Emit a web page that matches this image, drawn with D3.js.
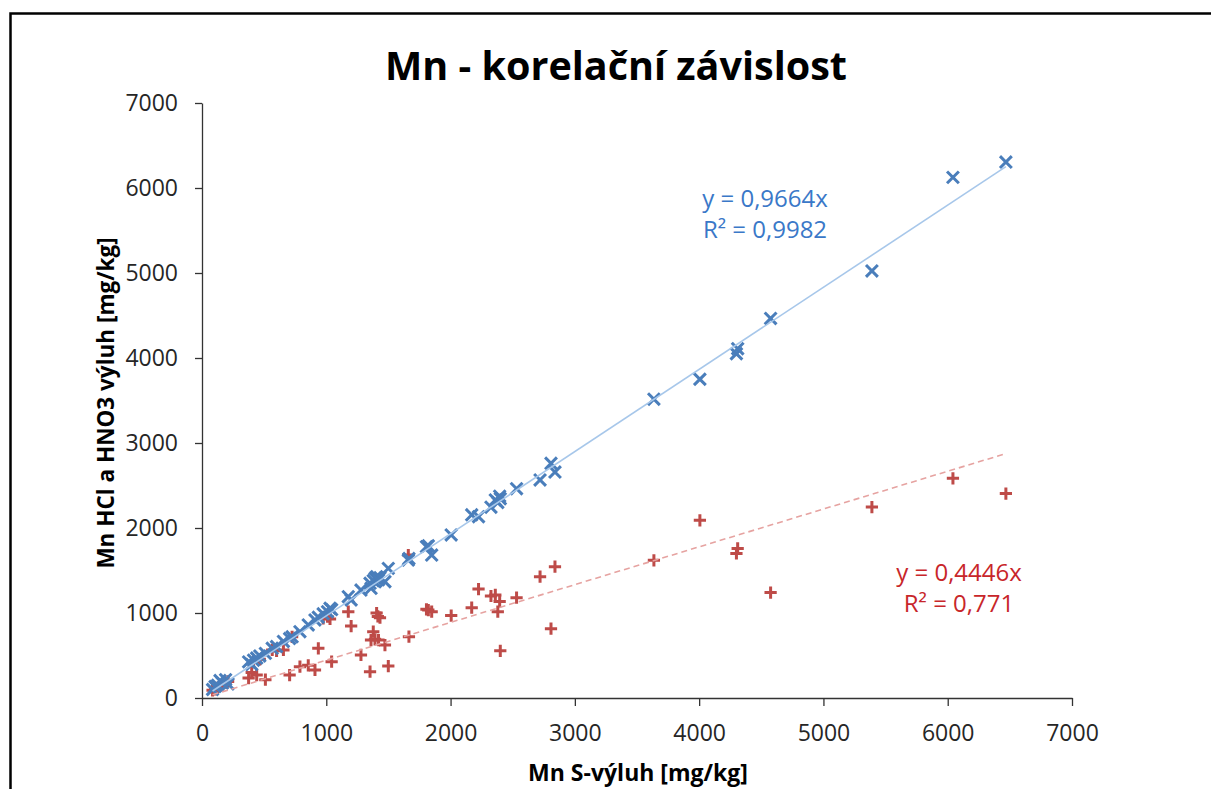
<!DOCTYPE html>
<html>
<head>
<meta charset="utf-8">
<script src="https://cdn.jsdelivr.net/npm/d3@7"></script>
<style>
    body { margin: 0; background: #fff; }
    svg { display: block; font-family: "Open Sans", sans-serif; }
</style>
</head>
<body>
<div id="chart"></div>
<script>
const W = 1211, H = 789;

// Mn S-výluh [mg/kg] (osa x, společná pro obě řady)
const sVyluh = [85, 105, 125, 145, 165, 190, 210, 375, 400, 415, 440, 465, 510, 565, 600, 655,
    705, 725, 788, 855, 909, 936, 975, 1010, 1030, 1043, 1177, 1200, 1279, 1352, 1360, 1378,
    1392, 1405, 1415, 1420, 1432, 1472, 1499, 1660, 1665, 1806, 1821, 1848, 2005, 2170, 2225,
    2325, 2360, 2380, 2395, 2400, 2531, 2720, 2808, 2840, 3636, 4006, 4300, 4310, 4575, 5390,
    6042, 6468];
// modrá řada (x)
const seriesBlue = [100, 135, 150, 205, 175, 215, 165, 425, 395, 445, 470, 495, 525, 585, 605, 665,
    700, 720, 780, 860, 918, 950, 990, 1015, 1055, 1040, 1192, 1153, 1270, 1349, 1290, 1380,
    1408, 1427, 1400, 1390, 1415, 1368, 1525, 1623, 1640, 1780, 1790, 1682, 1918, 2155, 2133,
    2245, 2330, 2300, 2375, 2345, 2462, 2565, 2761, 2658, 3515, 3750, 4050, 4110, 4465, 5024,
    6125, 6305];
// červená řada (+)
const seriesRed = [90, 100, 120, 145, 165, 180, 195, 235, 300, 430, 270, 455, 215, 565, 555, 565,
    270, 720, 368, 385, 330, 584, 938, 956, 930, 427, 1015, 847, 506, 310, 682, 780,
    690, 1000, 960, 682, 945, 623, 376, 1682, 721, 1044, 1035, 1015, 970, 1062, 1282,
    1200, 1212, 1015, 1135, 555, 1180, 1427, 815, 1545, 1620, 2090, 1700, 1760, 1240, 2247,
    2585, 2405];

const xTicks = [0, 1000, 2000, 3000, 4000, 5000, 6000, 7000];
const yTicks = [0, 1000, 2000, 3000, 4000, 5000, 6000, 7000];

// spojnice trendu (procházejí počátkem)
const slopeBlue = 0.9664, slopeRed = 0.4446;
const eqBlue = ["y = 0,9664x", "R² = 0,9982"];
const eqRed = ["y = 0,4446x", "R² = 0,771"];

const BLUE = "#4a7ebb", RED = "#be4b48";
const BLUE_LINE = "#a7c7ea", RED_LINE = "#e6a3a1";

const svg = d3.select("#chart").append("svg")
    .attr("width", W)
    .attr("height", H);

svg.append("rect").attr("width", W).attr("height", H).attr("fill", "#fff");

// rámeček grafu (přesahuje vpravo a dole)
svg.append("rect")
    .attr("x", 10.5).attr("y", 13.5)
    .attr("width", W + 50).attr("height", H + 50)
    .attr("fill", "none")
    .attr("stroke", "#000")
    .attr("stroke-width", 2.5);

const x = d3.scaleLinear().domain([0, 7000]).range([202, 1072]);
const y = d3.scaleLinear().domain([0, 7000]).range([698, 103]);
const fmt = d3.format("d");

// osy
const gx = svg.append("g")
    .attr("transform", `translate(0,${y(0)})`)
    .call(d3.axisBottom(x).tickValues(xTicks).tickFormat(fmt)
        .tickSize(8).tickSizeOuter(0).tickPadding(19));
const gy = svg.append("g")
    .attr("transform", `translate(${x(0)},0)`)
    .call(d3.axisLeft(y).tickValues(yTicks).tickFormat(fmt)
        .tickSize(7).tickSizeOuter(0).tickPadding(17));

[gx, gy].forEach(g => {
    g.select(".domain").attr("stroke", "#333").attr("stroke-width", 1.3);
    g.selectAll(".tick line").attr("stroke", "#333").attr("stroke-width", 1.3);
    g.selectAll(".tick text")
        .attr("fill", "#262626")
        .style("font-family", "Open Sans")
        .style("font-size", "23px");
});

// vlastní značky: × a +
const symX = {
    draw(ctx, size) {
        const r = Math.sqrt(size) / 2;
        ctx.moveTo(-r, -r); ctx.lineTo(r, r);
        ctx.moveTo(-r, r); ctx.lineTo(r, -r);
    }
};
const symPlus = {
    draw(ctx, size) {
        const r = Math.sqrt(size) / 2;
        ctx.moveTo(-r, 0); ctx.lineTo(r, 0);
        ctx.moveTo(0, -r); ctx.lineTo(0, r);
    }
};

const dataBlue = sVyluh.map((v, i) => ({ x: v, y: seriesBlue[i] }));
const dataRed = sVyluh.map((v, i) => ({ x: v, y: seriesRed[i] }));

svg.append("g").selectAll("path")
    .data(dataRed)
    .enter()
    .append("path")
    .attr("d", d3.symbol().type(symPlus).size(150))
    .attr("transform", d => `translate(${x(d.x)},${y(d.y)})`)
    .attr("fill", "none")
    .attr("stroke", RED)
    .attr("stroke-width", 3);

svg.append("g").selectAll("path")
    .data(dataBlue)
    .enter()
    .append("path")
    .attr("d", d3.symbol().type(symX).size(140))
    .attr("transform", d => `translate(${x(d.x)},${y(d.y)})`)
    .attr("fill", "none")
    .attr("stroke", BLUE)
    .attr("stroke-width", 3);

// trendy
const xMin = d3.min(sVyluh), xMax = d3.max(sVyluh);
const line = d3.line().x(d => x(d[0])).y(d => y(d[1]));

svg.append("path")
    .datum([[xMin, slopeBlue * xMin], [xMax, slopeBlue * xMax]])
    .attr("d", line)
    .attr("fill", "none")
    .attr("stroke", BLUE_LINE)
    .attr("stroke-width", 1.6);

svg.append("path")
    .datum([[xMin, slopeRed * xMin], [xMax, slopeRed * xMax]])
    .attr("d", line)
    .attr("fill", "none")
    .attr("stroke", RED_LINE)
    .attr("stroke-width", 1.6)
    .attr("stroke-dasharray", "6,4");

// rovnice
function equation(lines, cx, y0, color) {
    svg.append("g").selectAll("text")
        .data(lines)
        .enter()
        .append("text")
        .attr("x", cx)
        .attr("y", (d, i) => y0 + i * 31)
        .attr("text-anchor", "middle")
        .attr("fill", color)
        .style("font-size", "24px")
        .text(d => d);
}
equation(eqBlue, 765, 207, "#3a78c8");
equation(eqRed, 959, 581, "#c8262a");

// titulek
svg.append("text")
    .attr("x", 616)
    .attr("y", 80)
    .attr("text-anchor", "middle")
    .attr("textLength", 462)
    .attr("lengthAdjust", "spacingAndGlyphs")
    .style("font-size", "39px")
    .style("font-weight", "bold")
    .attr("fill", "#000")
    .text("Mn - korelační závislost");

// popisky os
svg.append("text")
    .attr("x", 638)
    .attr("y", 781)
    .attr("text-anchor", "middle")
    .style("font-size", "23px")
    .style("font-weight", "bold")
    .attr("fill", "#000")
    .text("Mn S-výluh [mg/kg]");

svg.append("text")
    .attr("transform", "translate(114,403) rotate(-90)")
    .attr("text-anchor", "middle")
    .style("font-size", "22.5px")
    .style("font-weight", "bold")
    .attr("fill", "#000")
    .text("Mn HCl a HNO3 výluh [mg/kg]");
</script>
</body>
</html>
